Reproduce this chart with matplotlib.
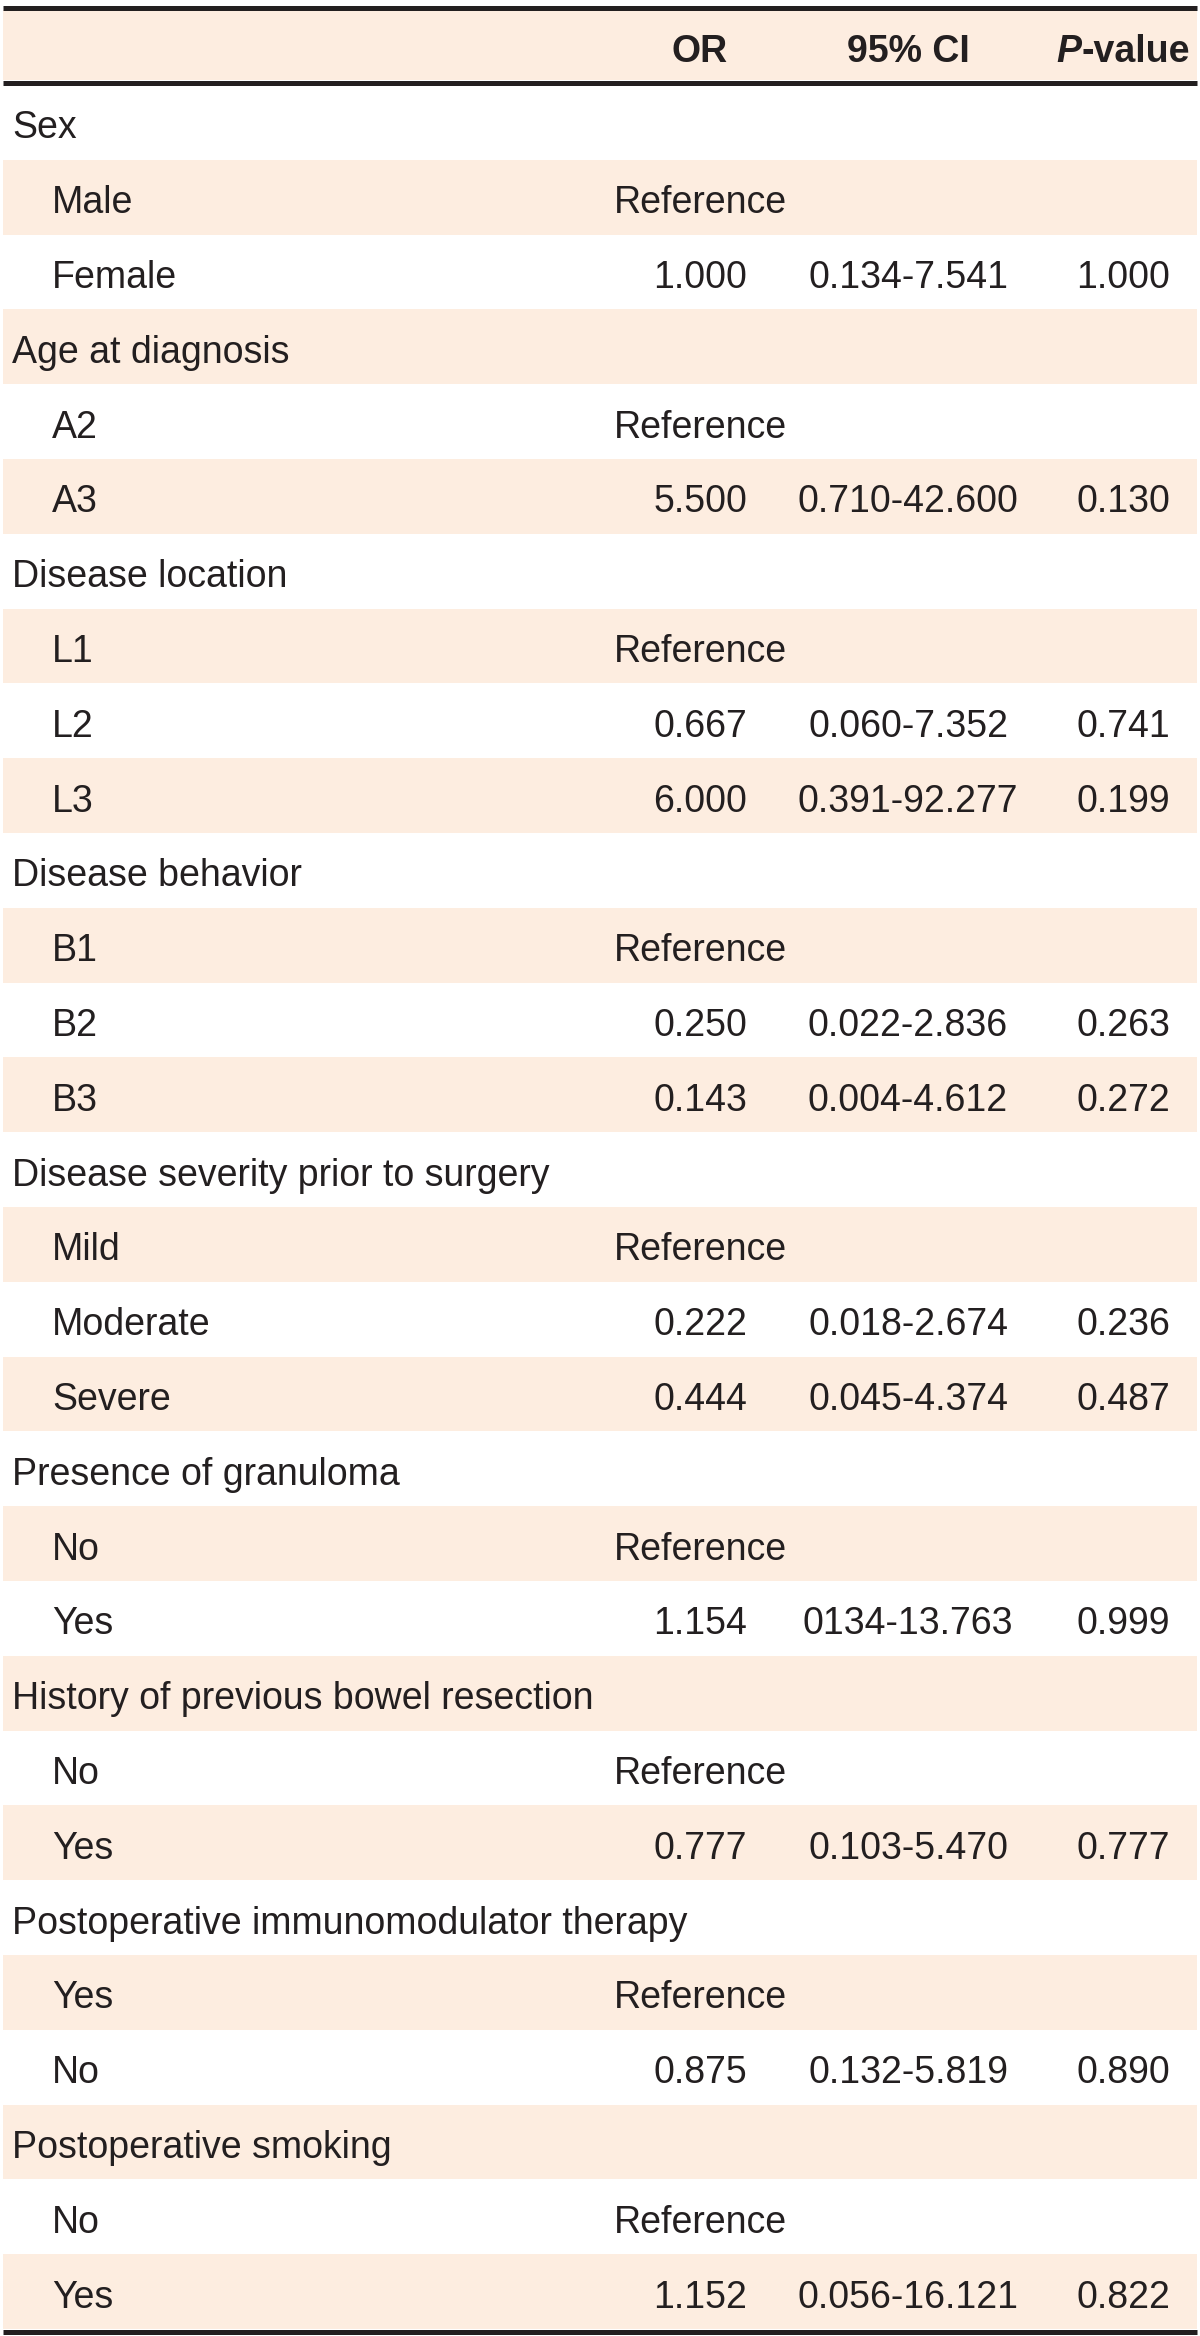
import matplotlib
matplotlib.use("Agg")
import matplotlib.pyplot as plt
from matplotlib import font_manager
from matplotlib.patches import Rectangle

# table content
row_labels = ["Sex", "Male", "Female",
              "Age at diagnosis", "A2", "A3",
              "Disease location", "L1", "L2", "L3",
              "Disease behavior", "B1", "B2", "B3",
              "Disease severity prior to surgery", "Mild", "Moderate", "Severe",
              "Presence of granuloma", "No", "Yes",
              "History of previous bowel resection", "No", "Yes",
              "Postoperative immunomodulator therapy", "Yes", "No",
              "Postoperative smoking", "No", "Yes"]
row_indent = [0, 1, 1,
              0, 1, 1,
              0, 1, 1, 1,
              0, 1, 1, 1,
              0, 1, 1, 1,
              0, 1, 1,
              0, 1, 1,
              0, 1, 1,
              0, 1, 1]
or_vals = ["", "Reference", "1.000",
           "", "Reference", "5.500",
           "", "Reference", "0.667", "6.000",
           "", "Reference", "0.250", "0.143",
           "", "Reference", "0.222", "0.444",
           "", "Reference", "1.154",
           "", "Reference", "0.777",
           "", "Reference", "0.875",
           "", "Reference", "1.152"]
ci_vals = ["", "", "0.134-7.541",
           "", "", "0.710-42.600",
           "", "", "0.060-7.352", "0.391-92.277",
           "", "", "0.022-2.836", "0.004-4.612",
           "", "", "0.018-2.674", "0.045-4.374",
           "", "", "0134-13.763",
           "", "", "0.103-5.470",
           "", "", "0.132-5.819",
           "", "", "0.056-16.121"]
p_vals = ["", "", "1.000",
          "", "", "0.130",
          "", "", "0.741", "0.199",
          "", "", "0.263", "0.272",
          "", "", "0.236", "0.487",
          "", "", "0.999",
          "", "", "0.777",
          "", "", "0.890",
          "", "", "0.822"]

W, H = 1200, 2336
shade = "#fdede0"
ink = "#231f20"

avail = {f.name for f in font_manager.fontManager.ttflist}
if "Liberation Sans Narrow" in avail:
    fam, fs = "Liberation Sans Narrow", 32.5
else:
    fam, fs = "Liberation Sans", 27

fig = plt.figure(figsize=(W / 100, H / 100), dpi=100)
ax = fig.add_axes([0, 0, 1, 1])
ax.set_xlim(0, W)
ax.set_ylim(H, 0)
ax.axis("off")

x0, x1 = 3, 1197
head_top, head_bot = 10, 80
row_h = (2329 - 85) / len(row_labels)
top = 85

# header band and rules
ax.add_patch(Rectangle((x0, head_top), x1 - x0, head_bot - head_top, color=shade, lw=0))
for y in [7.5, 82.5, 2331.5]:
    ax.plot([x0, x1], [y, y], color=ink, lw=3.6, solid_capstyle="butt")

col_or, col_ci, col_p = 700, 908, 1123

hb = 62
ax.text(col_or, hb, "OR", ha="center", va="baseline", family=fam, weight="bold", fontsize=fs, color=ink)
ax.text(col_ci, hb, "95% CI", ha="center", va="baseline", family=fam, weight="bold", fontsize=fs, color=ink)
tp = ax.text(0, hb, "P", ha="left", va="baseline", family=fam, weight="bold", style="italic", fontsize=fs, color=ink)
tv = ax.text(0, hb, "-value", ha="left", va="baseline", family=fam, weight="bold", fontsize=fs, color=ink)
fig.canvas.draw()
r = fig.canvas.get_renderer()
inv = ax.transData.inverted()
def width_data(t):
    bb = t.get_window_extent(r)
    (a, _), (b, _) = inv.transform([[bb.x0, bb.y0], [bb.x1, bb.y0]])
    return b - a
wp, wv = width_data(tp), width_data(tv)
start = col_p - (wp + wv) / 2
tp.set_x(start)
tv.set_x(start + wp)

for i, lab in enumerate(row_labels):
    y_top = top + i * row_h
    if i % 2 == 1:
        ax.add_patch(Rectangle((x0, y_top), x1 - x0, row_h, color=shade, lw=0))
    base = y_top + row_h / 2 + 16
    xl = 52 if row_indent[i] else 12
    ax.text(xl, base, lab, ha="left", va="baseline", family=fam, fontsize=fs, color=ink)
    ax.text(col_or, base, or_vals[i], ha="center", va="baseline", family=fam, fontsize=fs, color=ink)
    ax.text(col_ci, base, ci_vals[i], ha="center", va="baseline", family=fam, fontsize=fs, color=ink)
    ax.text(col_p, base, p_vals[i], ha="center", va="baseline", family=fam, fontsize=fs, color=ink)

fig.savefig("out.png", dpi=100)
